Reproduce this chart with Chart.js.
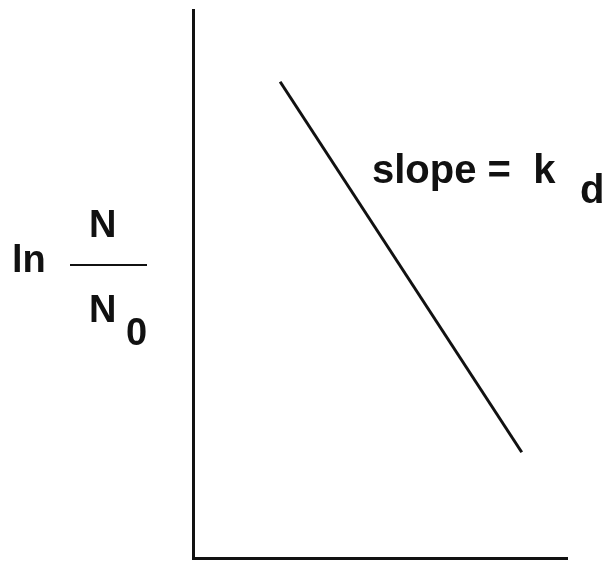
<!DOCTYPE html>
<html>
<head>
<meta charset="utf-8">
<script src="https://cdn.jsdelivr.net/npm/chart.js@4/dist/chart.umd.min.js"></script>
<style>
  html, body { margin: 0; padding: 0; background: #fff; }
  #wrap { width: 604px; height: 563px; position: relative; }
</style>
</head>
<body>
<div id="wrap"><canvas id="c" width="604" height="563"></canvas></div>
<script>
// Time (x) and ln(N/N0) (y) at the two ends of the death-kinetics line
const timeValues = [2.33, 8.79];
const lnRatioValues = [8.69, 1.93];
// Axis ranges (no numeric ticks are shown)
const xRange = [0, 10];
const yRange = [0, 10];

const ink = '#111111';
const fontFamily = '"Liberation Sans", Arial, Helvetica, sans-serif';

// Labels written beside the axes and the line
const annotations = {
  id: 'annotations',
  afterDraw(chart) {
    const ctx = chart.ctx;
    ctx.save();
    ctx.fillStyle = ink;
    ctx.textAlign = 'left';
    ctx.textBaseline = 'alphabetic';

    // slope = k_d
    ctx.font = 'bold 40px ' + fontFamily;
    ctx.fillText('slope =  k', 372, 183);
    ctx.fillText('d', 580, 203);

    // ln N / N0
    ctx.font = 'bold 38px ' + fontFamily;
    ctx.fillText('ln', 12, 272);
    ctx.fillText('N', 89, 237);
    ctx.fillText('N', 89, 322);
    ctx.fillText('0', 126, 345);
    ctx.fillRect(70, 264, 77, 2);
    ctx.restore();
  }
};

new Chart(document.getElementById('c'), {
  type: 'scatter',
  data: {
    datasets: [{
      data: timeValues.map((t, i) => ({ x: t, y: lnRatioValues[i] })),
      showLine: true,
      borderColor: ink,
      borderWidth: 3,
      pointRadius: 0,
      borderCapStyle: 'butt',
      fill: false
    }]
  },
  options: {
    responsive: false,
    animation: false,
    devicePixelRatio: 1,
    layout: { padding: { left: 193, right: 37, top: 10, bottom: 5 } },
    plugins: {
      legend: { display: false },
      tooltip: { enabled: false },
      title: { display: false }
    },
    scales: {
      x: {
        type: 'linear',
        min: xRange[0], max: xRange[1],
        grid: { display: false, drawTicks: false },
        ticks: { display: false },
        border: { display: true, color: ink, width: 3 }
      },
      y: {
        type: 'linear',
        min: yRange[0], max: yRange[1],
        grid: { display: false, drawTicks: false },
        ticks: { display: false },
        border: { display: true, color: ink, width: 3 }
      }
    }
  },
  plugins: [annotations]
});
</script>
</body>
</html>
